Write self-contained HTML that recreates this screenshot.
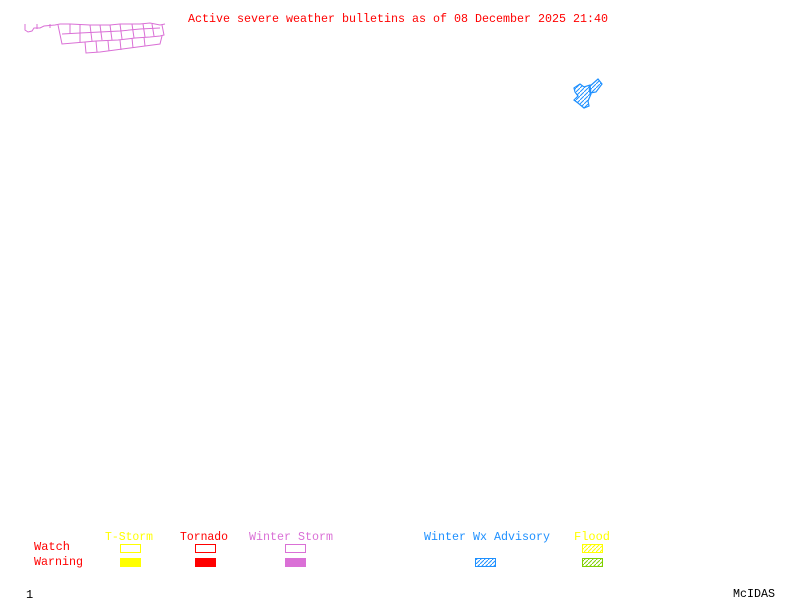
<!DOCTYPE html>
<html><head><style>
html,body{margin:0;padding:0;background:#fff;width:800px;height:600px;overflow:hidden}
text{font-family:"Liberation Mono","DejaVu Sans Mono",monospace;font-size:12px}
</style></head><body>
<svg width="800" height="600" xmlns="http://www.w3.org/2000/svg">
<defs>
<pattern id="hb" width="4" height="4" patternUnits="userSpaceOnUse"><path d="M0,4 L4,0" stroke="#1e90ff" stroke-width="1"/></pattern>
<pattern id="hy" width="4" height="4" patternUnits="userSpaceOnUse"><path d="M0,4 L4,0" stroke="#ffff00" stroke-width="1"/></pattern>
<pattern id="hg" width="4" height="4" patternUnits="userSpaceOnUse"><path d="M0,4 L4,0" stroke="#7fd000" stroke-width="1"/></pattern>
</defs>
<text x="188" y="22" fill="#ff0000" textLength="420" lengthAdjust="spacingAndGlyphs">Active severe weather bulletins as of 08 December 2025 21:40</text>

<g fill="none" stroke="#da70d6" stroke-width="1">
<path d="M25,24 L25,30 L28,32 L32,31 L34,28 L40,28 L44,26 L55,25 L60,24 L70,24 L90,25 L110,25 L120,24 L140,24 L150,23 L160,25 L165,24"/>
<path d="M37,24 L37,29 M50,24 L50,28 M58,25 L62,44 L85,42 L96,41 L118,40 L135,38 L150,37 L160,36 L164,35 L162,25"/>
<path d="M62,34 L80,33 L100,32 L120,31 L140,29 L160,28"/>
<path d="M70,24 L70,34 M80,24 L80,42 M90,25 L92,41 M100,25 L102,40 M110,25 L112,40 M120,24 L122,39 M132,24 L134,38 M143,24 L145,37 M152,24 L154,36"/>
<path d="M85,42 L86,53 L100,52 L115,50 L130,48 L145,46 L160,44 L162,36"/>
<path d="M96,41 L97,52 M108,41 L109,51 M120,40 L121,50 M132,38 L133,48 M144,37 L145,46"/>
</g>

<g fill="url(#hb)" stroke="#1e90ff" stroke-width="1.2">
<path d="M589,87 L598,79 L602,84 L596,92 L590,93 Z"/>
<path d="M574,88 L580,84 L584,87 L590,85 L591,94 L588,101 L589,106 L584,108 L578,103 L574,100 L578,96 L575,92 Z"/>
</g>

<text x="105" y="540" fill="#ffff00" textLength="48" lengthAdjust="spacingAndGlyphs">T-Storm</text>
<text x="180" y="540" fill="#ff0000" textLength="48" lengthAdjust="spacingAndGlyphs">Tornado</text>
<text x="249" y="540" fill="#da70d6" textLength="84" lengthAdjust="spacingAndGlyphs">Winter Storm</text>
<text x="424" y="540" fill="#1e90ff" textLength="126" lengthAdjust="spacingAndGlyphs">Winter Wx Advisory</text>
<text x="574" y="540" fill="#ffff00" textLength="36" lengthAdjust="spacingAndGlyphs">Flood</text>
<text x="34" y="550" fill="#ff0000" textLength="36" lengthAdjust="spacingAndGlyphs">Watch</text>
<text x="34" y="565" fill="#ff0000" textLength="49" lengthAdjust="spacingAndGlyphs">Warning</text>

<rect x="120.5" y="544.5" width="20" height="8" fill="none" stroke="#ffff00"/>
<rect x="120" y="558" width="21" height="9" fill="#ffff00"/>
<rect x="195.5" y="544.5" width="20" height="8" fill="none" stroke="#ff0000"/>
<rect x="195" y="558" width="21" height="9" fill="#ff0000"/>
<rect x="285.5" y="544.5" width="20" height="8" fill="none" stroke="#da70d6"/>
<rect x="285" y="558" width="21" height="9" fill="#da70d6"/>
<rect x="475.5" y="558.5" width="20" height="8" fill="url(#hb)" stroke="#1e90ff"/>
<rect x="582.5" y="544.5" width="20" height="8" fill="url(#hy)" stroke="#ffff00"/>
<rect x="582.5" y="558.5" width="20" height="8" fill="url(#hg)" stroke="#7fd000"/>

<text x="26" y="598" fill="#000">1</text>
<text x="733" y="597" fill="#000" textLength="42" lengthAdjust="spacingAndGlyphs">McIDAS</text>
</svg>
</body></html>
